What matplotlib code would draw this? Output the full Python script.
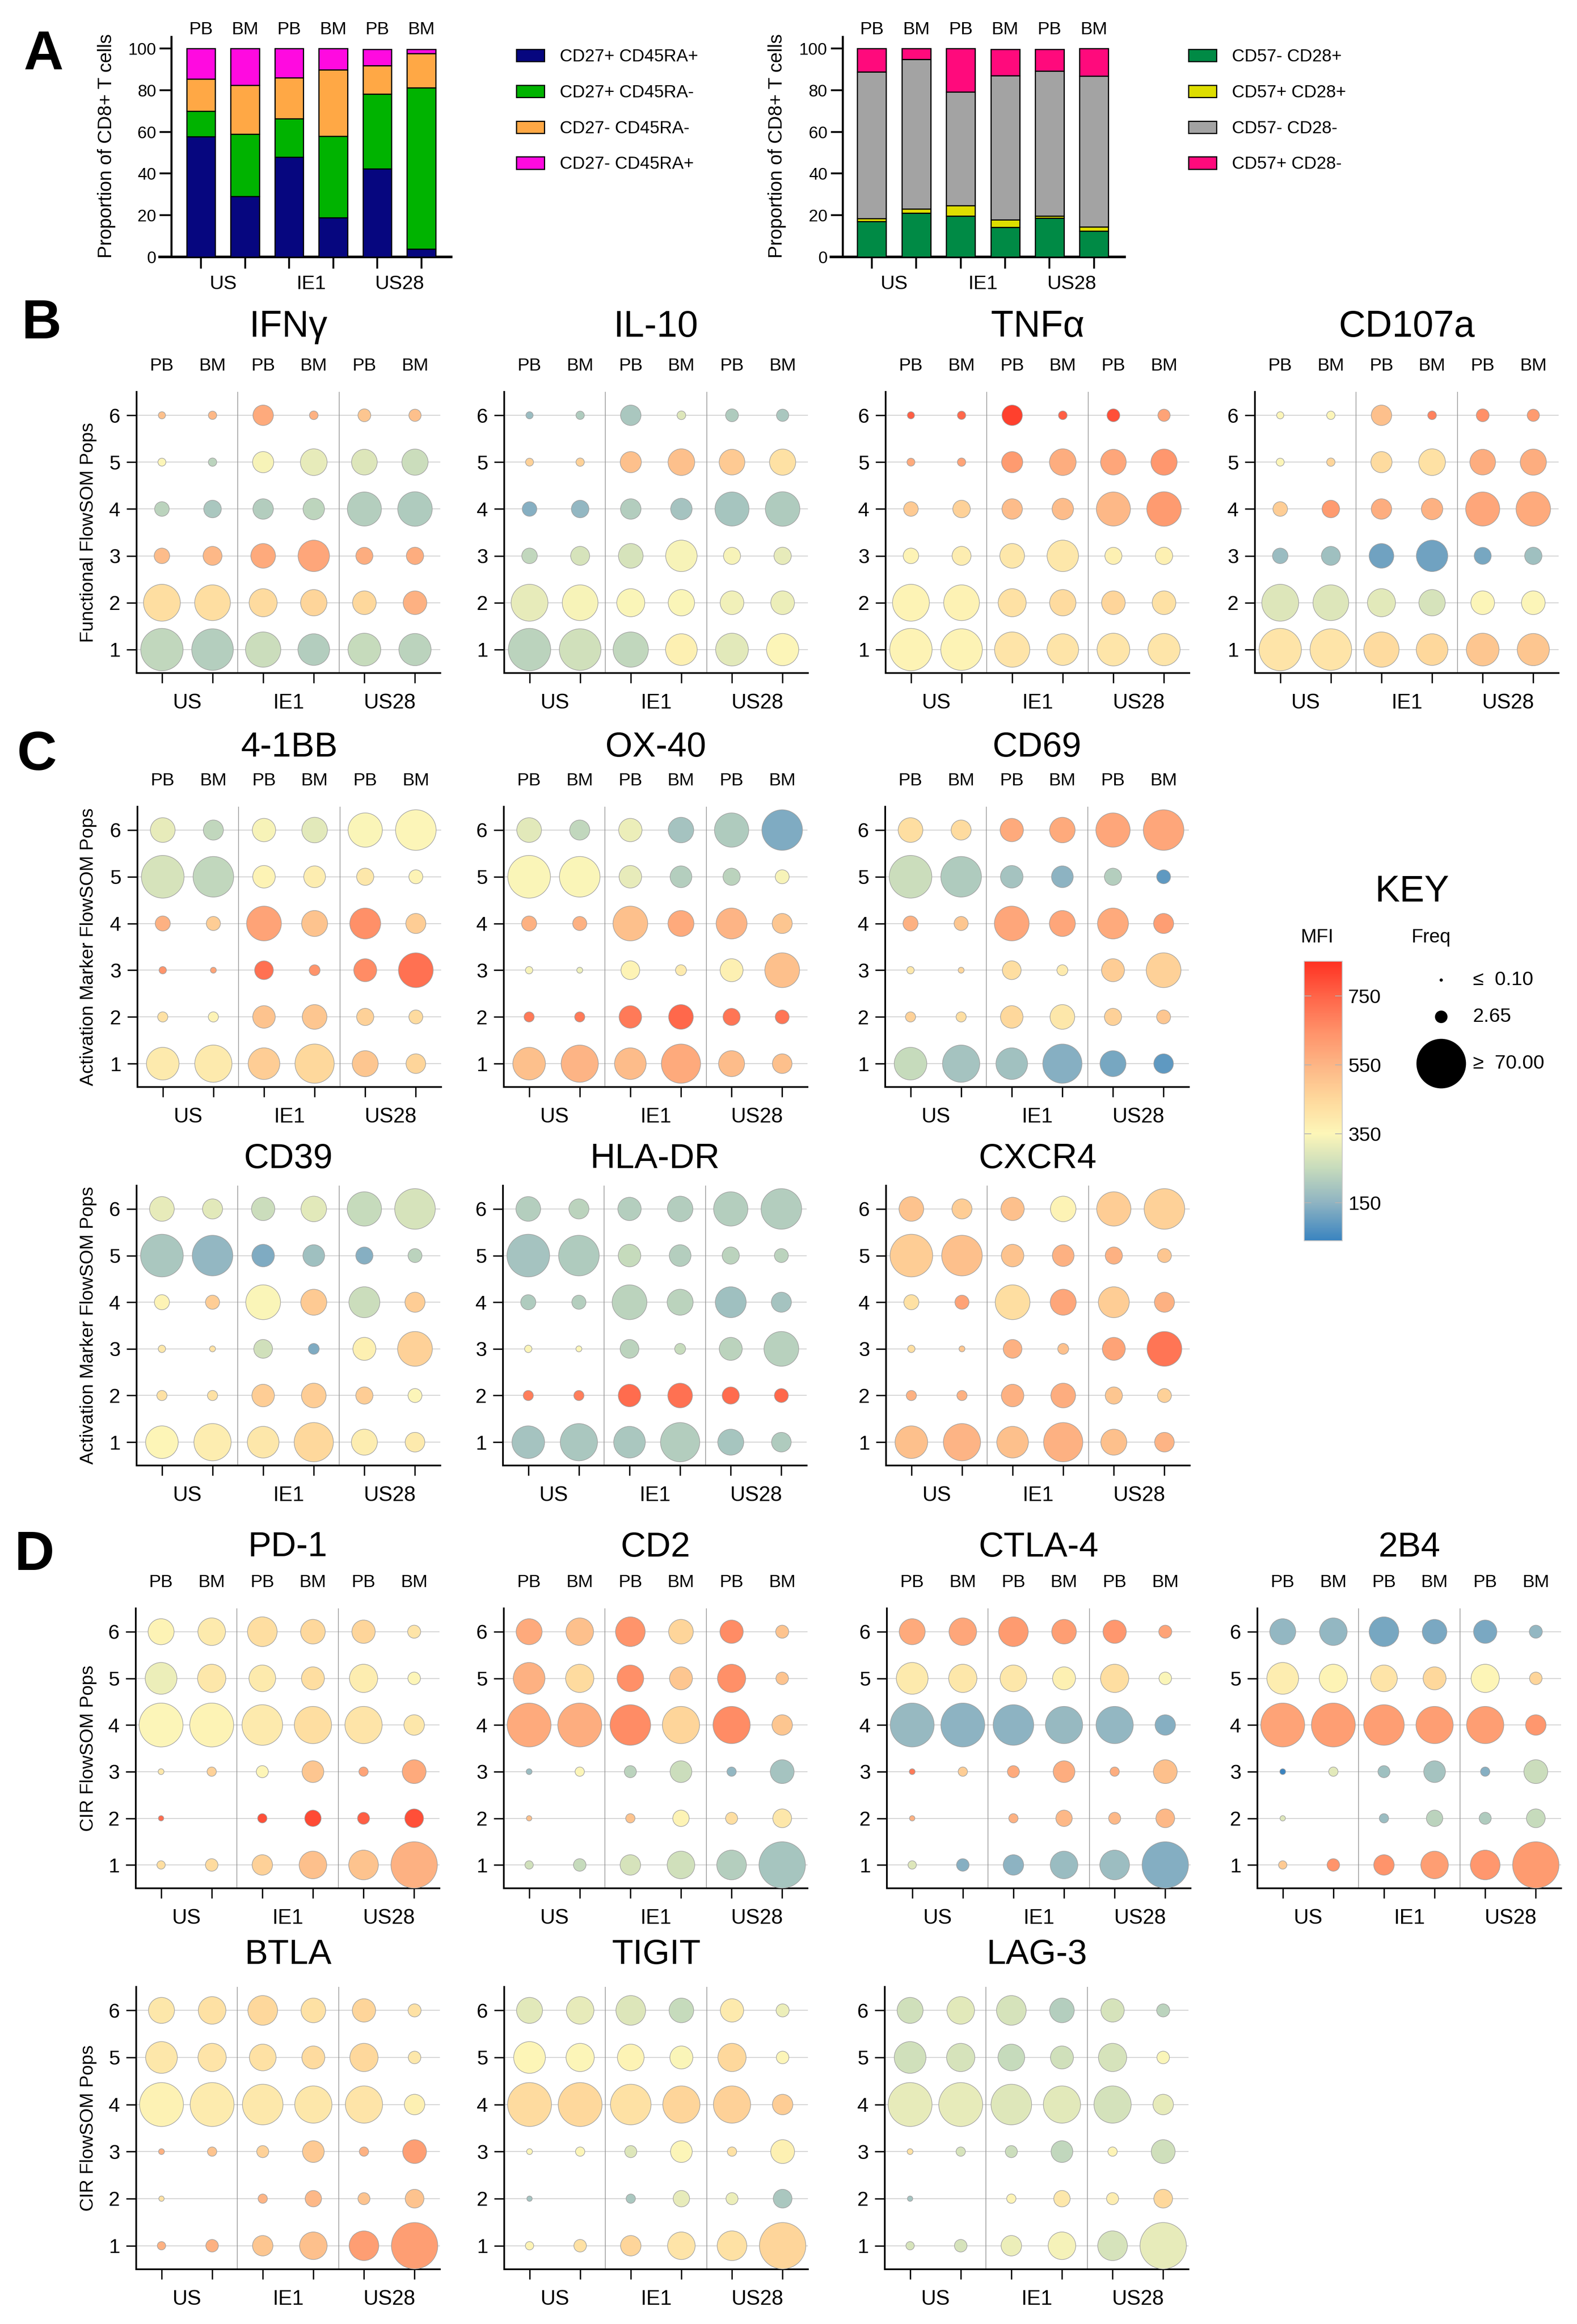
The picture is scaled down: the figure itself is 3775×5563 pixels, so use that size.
import numpy as np
import matplotlib
matplotlib.use("Agg")
import matplotlib.pyplot as plt
from matplotlib.colors import LinearSegmentedColormap, Normalize
from matplotlib.cm import ScalarMappable
from matplotlib.patches import Patch

plt.rcParams["font.family"] = ["Liberation Sans", "DejaVu Sans"]

W, H, DPI = 3775, 5563, 100
PX = 72.0 / DPI  # points per pixel

# ============================ DATA ============================
SAMPLES = ["PB", "BM", "PB", "BM", "PB", "BM"]
GROUPS = ["US", "IE1", "US28"]
POPS = [1, 2, 3, 4, 5, 6]

# ---- Panel A, left: CD27 / CD45RA subsets (% of CD8+ T cells)
A1_LABELS = ["CD27+ CD45RA+", "CD27+ CD45RA-", "CD27- CD45RA-", "CD27- CD45RA+"]
A1_CD27P_CD45RAP = [57.7, 29.0, 47.9, 18.9, 42.3, 3.9]
A1_CD27P_CD45RAN = [12.3, 29.9, 18.4, 39.1, 35.9, 77.2]
A1_CD27N_CD45RAN = [15.3, 23.4, 19.6, 31.8, 13.5, 16.4]
A1_CD27N_CD45RAP = [14.7, 17.7, 14.1, 10.2, 7.8, 2.0]
A1_COLORS = ["#06067f", "#00b300", "#ffa845", "#ff0ae0"]

# ---- Panel A, right: CD57 / CD28 subsets
A2_LABELS = ["CD57- CD28+", "CD57+ CD28+", "CD57- CD28-", "CD57+ CD28-"]
A2_CD57N_CD28P = [17.0, 21.0, 19.6, 14.3, 18.6, 12.4]
A2_CD57P_CD28P = [1.4, 2.0, 5.1, 3.5, 1.1, 2.0]
A2_CD57N_CD28N = [70.4, 71.8, 54.4, 69.1, 69.5, 72.3]
A2_CD57P_CD28N = [11.2, 5.2, 20.9, 12.6, 10.3, 13.3]
A2_COLORS = ["#008a45", "#dede00", "#a3a3a3", "#ff0a7c"]

# ---- Bubble data: rows = FlowSOM pop 1..6, cols = US PB, US BM, IE1 PB, IE1 BM, US28 PB, US28 BM
FUNC_FREQ = [[48.0, 46.0, 31.0, 24.0, 26.0, 25.0],
             [34.5, 32.0, 18.0, 15.5, 12.0, 12.0],
             [4.4, 7.1, 13.3, 23.7, 5.5, 5.7],
             [3.8, 5.9, 8.5, 9.5, 28.6, 29.5],
             [0.9, 1.0, 9.2, 16.0, 14.6, 15.3],
             [0.7, 1.0, 8.5, 1.1, 2.8, 2.5]]

IFNG_MFI = [[240, 220, 260, 215, 250, 230],
            [430, 430, 440, 460, 450, 560],
            [530, 540, 580, 590, 570, 570],
            [230, 200, 215, 235, 220, 210],
            [350, 230, 340, 310, 290, 260],
            [520, 540, 580, 560, 500, 520]]

IL10_MFI = [[230, 270, 240, 370, 300, 350],
            [310, 340, 345, 345, 330, 320],
            [240, 280, 280, 340, 340, 310],
            [140, 160, 215, 190, 195, 210],
            [470, 470, 520, 520, 490, 420],
            [170, 210, 200, 290, 210, 200]]

TNFA_MFI = [[360, 360, 410, 410, 405, 405],
            [360, 365, 420, 440, 460, 420],
            [360, 380, 400, 400, 370, 370],
            [490, 470, 530, 530, 540, 620],
            [580, 600, 620, 570, 590, 630],
            [760, 740, 820, 760, 790, 600]]

CD107A_MFI = [[410, 410, 440, 450, 500, 500],
              [290, 290, 300, 280, 350, 350],
              [170, 180, 110, 110, 120, 180],
              [480, 620, 570, 560, 590, 580],
              [350, 460, 440, 420, 570, 570],
              [350, 350, 520, 680, 650, 620]]

ACT_FREQ = [[25.8, 35.3, 24.0, 40.0, 15.0, 7.7],
            [1.6, 1.6, 10.7, 13.3, 5.6, 3.4],
            [0.75, 0.45, 6.9, 1.9, 11.2, 30.0],
            [4.1, 3.5, 30.0, 15.0, 22.7, 8.1],
            [48.9, 43.4, 10.7, 9.8, 5.6, 3.4],
            [13.3, 8.1, 11.6, 14.4, 29.0, 43.4]]

CD137_MFI = [[390, 390, 480, 450, 500, 460],
             [420, 360, 510, 500, 470, 440],
             [640, 600, 720, 640, 660, 720],
             [560, 480, 600, 510, 650, 480],
             [280, 240, 360, 380, 400, 360],
             [310, 240, 340, 300, 345, 350]]

OX40_MFI = [[520, 550, 530, 580, 530, 520],
            [700, 700, 700, 740, 710, 710],
            [340, 320, 360, 390, 370, 520],
            [560, 560, 520, 580, 550, 500],
            [345, 345, 310, 220, 230, 340],
            [300, 240, 320, 190, 210, 130]]

CD69_MFI = [[250, 190, 185, 140, 120, 90],
            [470, 430, 450, 400, 470, 500],
            [400, 460, 430, 390, 480, 470],
            [560, 500, 590, 590, 580, 610],
            [260, 210, 190, 150, 220, 90],
            [430, 440, 580, 580, 590, 590]]

CD39_MFI = [[355, 380, 400, 450, 380, 390],
            [420, 420, 480, 480, 480, 350],
            [400, 420, 270, 130, 370, 470],
            [360, 480, 345, 490, 260, 480],
            [200, 160, 130, 180, 140, 230],
            [310, 300, 260, 300, 250, 280]]

HLADR_MFI = [[190, 200, 200, 215, 195, 210],
             [690, 690, 730, 720, 730, 740],
             [350, 350, 230, 250, 230, 225],
             [210, 220, 230, 230, 180, 190],
             [190, 210, 250, 220, 230, 230],
             [220, 230, 220, 215, 220, 215]]

CXCR4_MFI = [[520, 550, 520, 560, 520, 550],
             [560, 560, 560, 570, 500, 470],
             [430, 500, 560, 520, 600, 710],
             [420, 600, 430, 590, 480, 560],
             [480, 520, 510, 560, 560, 500],
             [510, 480, 520, 360, 480, 470]]

CIR_FREQ = [[1.0, 2.65, 8.5, 17.3, 20.6, 59.7],
            [0.35, 0.0, 1.3, 5.0, 2.4, 6.9],
            [0.43, 1.3, 2.4, 9.8, 1.3, 12.2],
            [52.3, 52.3, 43.4, 35.3, 35.3, 8.5],
            [24.2, 18.3, 16.0, 11.2, 18.3, 2.65],
            [15.0, 17.3, 20.6, 13.2, 11.6, 2.9]]

PD1_MFI = [[430, 440, 470, 520, 510, 560],
           [730, np.nan, 790, 800, 760, 790],
           [400, 470, 355, 500, 600, 580],
           [350, 360, 390, 430, 410, 400],
           [320, 400, 390, 430, 380, 355],
           [360, 390, 430, 450, 460, 410]]

CD2_MFI = [[270, 250, 280, 270, 220, 195],
           [520, np.nan, 510, 360, 430, 400],
           [170, 350, 230, 260, 160, 190],
           [580, 570, 660, 460, 660, 500],
           [560, 440, 650, 500, 650, 510],
           [580, 520, 640, 460, 660, 510]]

CTLA4_MFI = [[290, 140, 150, 170, 175, 135],
             [560, np.nan, 560, 540, 540, 540],
             [700, 480, 580, 570, 570, 520],
             [165, 150, 150, 165, 160, 140],
             [390, 400, 400, 370, 430, 345],
             [580, 590, 620, 610, 630, 600]]

CD244_MFI = [[490, 640, 640, 610, 630, 620],
             [290, np.nan, 170, 230, 210, 250],
             [40, 300, 180, 190, 140, 260],
             [600, 610, 610, 610, 610, 630],
             [380, 360, 410, 450, 355, 460],
             [160, 160, 120, 125, 125, 160]]

BTLA_MFI = [[560, 560, 500, 520, 610, 610],
            [420, np.nan, 550, 540, 510, 510],
            [560, 510, 470, 490, 560, 610],
            [365, 385, 395, 400, 410, 370],
            [400, 410, 420, 440, 450, 400],
            [400, 420, 450, 420, 460, 420]]

TIGIT_MFI = [[360, 420, 460, 410, 420, 460],
             [190, np.nan, 200, 310, 320, 200],
             [350, 350, 290, 350, 420, 370],
             [440, 450, 420, 460, 470, 480],
             [355, 350, 360, 345, 450, 350],
             [300, 310, 290, 250, 390, 320]]

LAG3_MFI = [[280, 280, 320, 335, 280, 310],
            [190, np.nan, 360, 400, 380, 450],
            [420, 280, 260, 240, 360, 265],
            [310, 310, 295, 300, 275, 310],
            [270, 280, 250, 270, 280, 345],
            [270, 300, 280, 220, 280, 230]]

# colour key
MFI_STOPS = [40, 150, 250, 350, 450, 550, 650, 750, 850]
MFI_COLORS = ["#3a84c0", "#8fb4c2", "#c6dbbc", "#fdf6b8", "#fed89c",
              "#fdb585", "#ff9068", "#ff6448", "#ff3222"]
CBAR_TICKS = [150, 350, 550, 750]
FREQ_KEY = [0.10, 2.65, 70.00]
FREQ_KEY_LABELS = ["\u2264  0.10", "2.65", "\u2265  70.00"]

# ============================ STYLE ============================
norm = Normalize(MFI_STOPS[0], MFI_STOPS[-1])
cmap = LinearSegmentedColormap.from_list(
    "mfi", [((v - MFI_STOPS[0]) / (MFI_STOPS[-1] - MFI_STOPS[0]), c)
            for v, c in zip(MFI_STOPS, MFI_COLORS)])


def bubble_area(freq):
    d_px = 30.0 * (np.asarray(freq, float) / 2.65) ** 0.42
    return (d_px * PX) ** 2


fig = plt.figure(figsize=(W / DPI, H / DPI), dpi=DPI)
fig.patch.set_facecolor("white")


def fx(x):
    return x / W


def fy(y):
    return 1 - y / H


# ============================ PANEL A ============================
def stacked_panel(left, spine_x_units, xmin, xmax, unit_px, series, colors, labels,
                  ylabel_x, legend_x):
    y0, ytop_px = 615, 88.5
    width_px = (xmax - xmin) * unit_px
    ax = fig.add_axes([fx(left), fy(y0), width_px / W, (y0 - ytop_px) / H])
    x = np.arange(1, 7)
    bottom = np.zeros(6)
    handles = []
    for vals, col, lab in zip(series, colors, labels):
        ax.bar(x, vals, width=0.65, bottom=bottom, color=col, edgecolor="black",
               linewidth=2.0, zorder=3)
        bottom = bottom + np.asarray(vals)
        handles.append(Patch(facecolor=col, edgecolor="black", linewidth=2.0, label=lab))
    ax.set_xlim(xmin, xmax)
    ax.set_ylim(0, 105.5)
    for s in ("top", "right"):
        ax.spines[s].set_visible(False)
    ax.spines["left"].set_position(("data", spine_x_units))
    ax.spines["left"].set_bounds(0, 105.5)
    ax.spines["left"].set_linewidth(3.5)
    ax.spines["bottom"].set_linewidth(4.5)
    ax.set_yticks([0, 20, 40, 60, 80, 100])
    ax.set_xticks(x)
    ax.set_xticklabels([])
    ax.tick_params(axis="y", length=20, width=3.2, labelsize=29, pad=6)
    ax.tick_params(axis="x", length=20, width=3.2)
    for xi, s in zip(x, SAMPLES):
        ax.annotate(s, xy=(xi, 1), xycoords=("data", "axes fraction"),
                    xytext=(0, 18 * PX), textcoords="offset points",
                    ha="center", va="center", fontsize=31)
    for gi, g in enumerate(GROUPS):
        ax.annotate(g, xy=(1.5 + 2 * gi, 0), xycoords=("data", "axes fraction"),
                    xytext=(0, -65 * PX), textcoords="offset points",
                    ha="center", va="center", fontsize=34)
    fig.text(fx(ylabel_x), fy(349), "Proportion of CD8+ T cells", rotation=90,
             ha="center", va="center", fontsize=33)
    fig.legend(handles=handles, loc="upper left",
               bbox_to_anchor=(fx(legend_x), fy(116)), frameon=False,
               fontsize=30, handlelength=1.6, handleheight=0.7,
               labelspacing=1.1, handletextpad=0.9, borderpad=0, borderaxespad=0)
    return ax


stacked_panel(382, 0.33, 0.06, 6.68, 105.5,
              [A1_CD27P_CD45RAP, A1_CD27P_CD45RAN, A1_CD27N_CD45RAN, A1_CD27N_CD45RAP],
              A1_COLORS, A1_LABELS, 255, 1236)
stacked_panel(1989, 0.34, 0.08, 6.69, 106.4,
              [A2_CD57N_CD28P, A2_CD57P_CD28P, A2_CD57N_CD28N, A2_CD57P_CD28N],
              A2_COLORS, A2_LABELS, 1860, 2845)


# ============================ BUBBLE PANELS ============================
def bubble_panel(title, mfi, freq, left, top, bottom, title_base, title_size,
                 pbbm, ylabel):
    ax = fig.add_axes([fx(left), fy(bottom), 727 / W, (bottom - top) / H])
    f = np.asarray(freq, float)
    m = np.asarray(mfi, float)
    xs, ys = np.meshgrid(np.arange(1, 7), np.asarray(POPS))
    mask = f > 0
    for yv in POPS:
        ax.axhline(yv, color="#d2d2d2", lw=1.6, zorder=0)
    for xv in (2.5, 4.5):
        ax.axvline(xv, color="#8c8c8c", lw=1.1, zorder=1)
    ax.scatter(xs[mask], ys[mask], s=bubble_area(f[mask]), c=m[mask], cmap=cmap,
               norm=norm, edgecolors="#a0a0a0", linewidths=1.0, zorder=3,
               clip_on=False)
    ax.set_xlim(0.5, 6.5)
    ax.set_ylim(0.5, 6.5)
    for s in ("top", "right"):
        ax.spines[s].set_visible(False)
    for s in ("left", "bottom"):
        ax.spines[s].set_linewidth(2.9)
    ax.set_yticks(POPS)
    ax.set_xticks(np.arange(1, 7))
    ax.set_xticklabels([])
    ax.tick_params(axis="y", length=17, width=2.4, labelsize=35, pad=11)
    ax.tick_params(axis="x", length=17, width=2.4)
    if pbbm:
        for xi, s in zip(range(1, 7), SAMPLES):
            ax.annotate(s, xy=(xi, 1), xycoords=("data", "axes fraction"),
                        xytext=(0, 62 * PX), textcoords="offset points",
                        ha="center", va="center", fontsize=31)
    for gi, g in enumerate(GROUPS):
        ax.annotate(g, xy=(1.5 + 2 * gi, 0), xycoords=("data", "axes fraction"),
                    xytext=(0, -72 * PX), textcoords="offset points",
                    ha="center", va="center", fontsize=36)
    fig.text(fx(left + 727 / 2), fy(title_base), title, ha="center",
             va="baseline", fontsize=title_size)
    if ylabel:
        fig.text(fx(212), fy((top + bottom) / 2), ylabel, rotation=90,
                 ha="center", va="center", fontsize=32)
    return ax


PANELS = [
    ("IFN\u03b3", IFNG_MFI, FUNC_FREQ, 327, 938, 1611, 806, 64, True, "Functional FlowSOM Pops"),
    ("IL-10", IL10_MFI, FUNC_FREQ, 1207, 938, 1611, 806, 64, True, None),
    ("TNF\u03b1", TNFA_MFI, FUNC_FREQ, 2120, 938, 1611, 806, 64, True, None),
    ("CD107a", CD107A_MFI, FUNC_FREQ, 3004, 938, 1611, 806, 64, True, None),
    ("4-1BB", CD137_MFI, ACT_FREQ, 329, 1931, 2602, 1811, 60, True, "Activation Marker FlowSOM Pops"),
    ("OX-40", OX40_MFI, ACT_FREQ, 1206, 1931, 2602, 1811, 60, True, None),
    ("CD69", CD69_MFI, ACT_FREQ, 2119, 1931, 2602, 1811, 60, True, None),
    ("CD39", CD39_MFI, ACT_FREQ, 327, 2838, 3508, 2796, 60, False, "Activation Marker FlowSOM Pops"),
    ("HLA-DR", HLADR_MFI, ACT_FREQ, 1204, 2838, 3508, 2796, 60, False, None),
    ("CXCR4", CXCR4_MFI, ACT_FREQ, 2121, 2838, 3508, 2796, 60, False, None),
    ("PD-1", PD1_MFI, CIR_FREQ, 325, 3850, 4520, 3726, 60, True, "CIR FlowSOM Pops"),
    ("CD2", CD2_MFI, CIR_FREQ, 1206, 3850, 4520, 3726, 60, True, None),
    ("CTLA-4", CTLA4_MFI, CIR_FREQ, 2123, 3850, 4520, 3726, 60, True, None),
    ("2B4", CD244_MFI, CIR_FREQ, 3010, 3850, 4520, 3726, 60, True, None),
    ("BTLA", BTLA_MFI, CIR_FREQ, 326, 4756, 5432, 4701, 60, False, "CIR FlowSOM Pops"),
    ("TIGIT", TIGIT_MFI, CIR_FREQ, 1207, 4756, 5432, 4701, 60, False, None),
    ("LAG-3", LAG3_MFI, CIR_FREQ, 2118, 4756, 5432, 4701, 60, False, None),
]
for p in PANELS:
    bubble_panel(*p)

# panel letters
for letter, (x, y) in zip("ABCD", [(104, 132), (99, 775), (88, 1809), (82, 3723)]):
    fig.text(fx(x), fy(y), letter, ha="center", va="center", fontsize=95,
             fontweight="bold")

# ============================ KEY ============================
fig.text(fx(3381), fy(2135), "KEY", ha="center", va="center", fontsize=64)
fig.text(fx(3153), fy(2244), "MFI", ha="center", va="center", fontsize=33)
fig.text(fx(3425), fy(2244), "Freq", ha="center", va="center", fontsize=33)

cax = fig.add_axes([fx(3122), fy(2970), 91 / W, (2970 - 2301) / H])
cb = fig.colorbar(ScalarMappable(norm=norm, cmap=cmap), cax=cax)
cb.set_ticks(CBAR_TICKS)
cb.outline.set_edgecolor("#c8c8c8")
cb.outline.set_linewidth(1.5)
cax.tick_params(axis="y", direction="in", length=12, width=1.5, color="#b4b4b4",
                left=True, right=True, labelsize=34, pad=10)

kax = fig.add_axes([fx(3380), fy(2620), 395 / W, 340 / H])
kax.set_xlim(3380, 3775)
kax.set_ylim(2620, 2280)
kax.axis("off")
key_y = [2346, 2434, 2546]
kax.scatter([3450] * 3, key_y, s=bubble_area(FREQ_KEY), color="black",
            edgecolors="none", clip_on=False)
for yv, lab in zip(key_y, FREQ_KEY_LABELS):
    kax.text(3526, yv, lab, ha="left", va="center", fontsize=34,
             family=["Liberation Sans", "DejaVu Sans"])

fig.savefig("out.png", dpi=DPI)
